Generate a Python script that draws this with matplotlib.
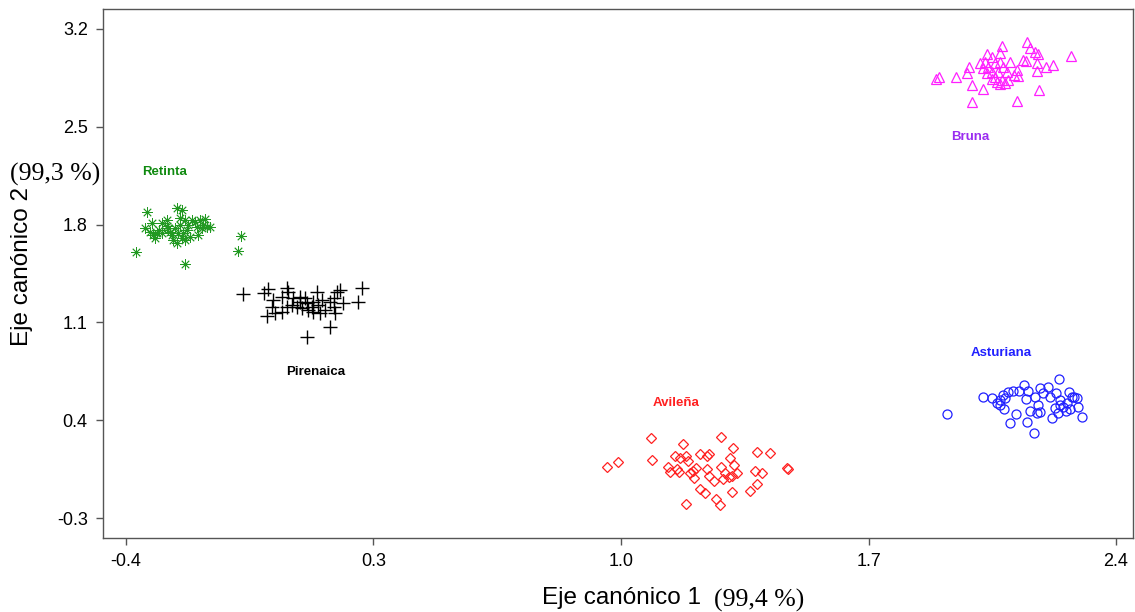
import numpy as np
import matplotlib
matplotlib.use("Agg")
import matplotlib.pyplot as plt

# Canonical scores (eje 1, eje 2)
retinta_x = [-0.341, -0.372, -0.233, -0.075, -0.084, -0.327, -0.346, -0.332, -0.323, -0.313,
             -0.318, -0.299, -0.285, -0.280, -0.275, -0.285, -0.271, -0.257, -0.242, -0.247,
             -0.233, -0.261, -0.252, -0.242, -0.257, -0.233, -0.219, -0.228, -0.224, -0.205,
             -0.191, -0.176, -0.200, -0.186, -0.172, -0.162, -0.195, -0.247, -0.266, -0.299,
             -0.308, -0.238, -0.214, -0.181]
retinta_y = [1.892, 1.601, 1.518, 1.721, 1.613, 1.814, 1.773, 1.749, 1.725, 1.742,
             1.702, 1.809, 1.833, 1.773, 1.749, 1.790, 1.725, 1.916, 1.904, 1.845,
             1.833, 1.773, 1.737, 1.702, 1.671, 1.690, 1.709, 1.761, 1.797, 1.821,
             1.833, 1.838, 1.785, 1.773, 1.785, 1.780, 1.725, 1.797, 1.690, 1.737,
             1.761, 1.737, 1.833, 1.797]

pirenaica_x = [-0.068, -0.011, 0.003, 0.055, 0.057, 0.017, 0.040, 0.073, 0.092, 0.106,
               0.111, 0.125, 0.144, 0.139, 0.154, 0.177, 0.187, 0.196, 0.206, 0.215,
               0.257, 0.267, 0.191, 0.177, 0.113, -0.002, 0.022, 0.040, 0.055, 0.069,
               0.083, 0.097, 0.116, 0.130, 0.149, 0.163, 0.092, 0.130, 0.187, 0.012]
pirenaica_y = [1.303, 1.308, 1.337, 1.344, 1.320, 1.260, 1.284, 1.272, 1.284, 1.272,
               1.236, 1.212, 1.224, 1.320, 1.260, 1.248, 1.272, 1.320, 1.332, 1.241,
               1.244, 1.348, 1.165, 1.069, 0.998, 1.146, 1.165, 1.177, 1.212, 1.224,
               1.212, 1.200, 1.189, 1.177, 1.170, 1.189, 1.248, 1.248, 1.212, 1.212]

avilena_x = [0.961, 0.992, 1.084, 1.089, 1.176, 1.283, 1.316, 1.386, 1.420, 1.154,
             1.167, 1.184, 1.190, 1.222, 1.242, 1.249, 1.308, 1.320, 1.134, 1.139,
             1.157, 1.165, 1.195, 1.205, 1.212, 1.206, 1.244, 1.250, 1.263, 1.283,
             1.288, 1.294, 1.306, 1.313, 1.327, 1.379, 1.398, 1.469, 1.473, 1.384,
             1.365, 1.313, 1.223, 1.238, 1.269, 1.280, 1.184]
avilena_y = [0.062, 0.103, 0.275, 0.115, 0.229, 0.282, 0.203, 0.172, 0.167, 0.143,
             0.127, 0.143, 0.108, 0.155, 0.143, 0.158, 0.132, 0.077, 0.062, 0.031,
             0.048, 0.029, 0.024, 0.039, 0.055, -0.012, 0.050, 0.000, -0.033, 0.062,
             -0.024, 0.019, -0.009, 0.000, 0.019, 0.036, 0.019, 0.055, 0.048, -0.057,
             -0.105, -0.112, -0.095, -0.124, -0.164, -0.207, -0.202]

asturiana_x = [1.921, 2.023, 2.048, 2.062, 2.072, 2.081, 2.095, 2.110, 2.127, 2.140,
               2.152, 2.145, 2.171, 2.180, 2.185, 2.193, 2.209, 2.213, 2.230, 2.240,
               2.242, 2.251, 2.268, 2.275, 2.281, 2.289, 2.260, 2.270, 2.259, 2.237,
               2.227, 2.218, 2.185, 2.176, 2.157, 2.149, 2.117, 2.100, 2.168, 2.083,
               2.072, 2.303, 2.293, 2.242, 2.086]
asturiana_y = [0.444, 0.563, 0.556, 0.520, 0.544, 0.580, 0.604, 0.611, 0.611, 0.652,
               0.611, 0.549, 0.563, 0.509, 0.628, 0.597, 0.635, 0.568, 0.592, 0.692,
               0.544, 0.497, 0.604, 0.568, 0.563, 0.556, 0.520, 0.477, 0.468, 0.454,
               0.485, 0.413, 0.461, 0.454, 0.468, 0.389, 0.444, 0.382, 0.310, 0.477,
               0.509, 0.420, 0.492, 0.509, 0.556]

bruna_x = [1.900, 1.891, 1.947, 1.985, 1.978, 1.994, 2.025, 1.992, 2.034, 2.029,
           2.048, 2.077, 2.072, 2.025, 2.039, 2.058, 2.072, 2.100, 2.081, 2.034,
           2.048, 2.067, 2.091, 2.119, 2.111, 2.124, 2.048, 2.062, 2.077, 2.095,
           2.086, 2.072, 2.147, 2.157, 2.171, 2.180, 2.138, 2.145, 2.176, 2.176,
           2.202, 2.223, 2.272, 2.183, 2.121, 2.015, 2.058]
bruna_y = [2.859, 2.840, 2.854, 2.930, 2.887, 2.799, 2.768, 2.680, 3.021, 2.966,
           3.002, 3.078, 3.031, 2.918, 2.930, 2.954, 2.966, 2.966, 2.930, 2.887,
           2.895, 2.895, 2.895, 2.906, 2.871, 2.863, 2.840, 2.823, 2.835, 2.835,
           2.811, 2.806, 3.109, 3.062, 3.038, 3.021, 2.978, 2.973, 2.959, 2.902,
           2.926, 2.942, 3.007, 2.763, 2.687, 2.954, 2.859]

breeds = ["Retinta", "Pirenaica", "Avileña", "Asturiana", "Bruna"]
label_x = [-0.290, 0.137, 1.155, 2.075, 1.987]
label_y = [2.176, 0.745, 0.523, 0.881, 2.427]
label_colors = ["#108a10", "black", "#ff2020", "#2020ff", "#9a2cf0"]

xticks = [-0.4, 0.3, 1.0, 1.7, 2.4]
yticks = [-0.3, 0.4, 1.1, 1.8, 2.5, 3.2]

fig = plt.figure(figsize=(11.35, 6.12), dpi=100)
ax = fig.add_axes([103 / 1135, 74 / 612, 1030 / 1135, 529 / 612])

ax.plot(retinta_x, retinta_y, ls="none", marker=(8, 2, 0), ms=7.5, mew=0.6, color="#229922")
ax.plot(pirenaica_x, pirenaica_y, ls="none", marker="+", ms=10, mew=1.0, color="black")
ax.plot(avilena_x, avilena_y, ls="none", marker="D", ms=5.3, mew=0.9, mfc="none", mec="#ff2020")
ax.plot(asturiana_x, asturiana_y, ls="none", marker="o", ms=6.5, mew=0.9, mfc="none", mec="#2020ff")
ax.plot(bruna_x, bruna_y, ls="none", marker="^", ms=7, mew=0.9, mfc="none", mec="#ff20ff")

for name, lx, ly, c in zip(breeds, label_x, label_y, label_colors):
    ax.text(lx, ly, name, color=c, fontsize=9.5, fontweight="bold",
            family="Liberation Sans", ha="center", va="center")

ax.set_xlim(-0.465, 2.448)
ax.set_ylim(-0.443, 3.343)
ax.set_xticks(xticks)
ax.set_xticklabels([f"{v:.1f}" for v in xticks])
ax.set_yticks(yticks)
ax.set_yticklabels([f"{v:.1f}" for v in yticks])
ax.tick_params(direction="out", length=5, width=1, color="#555555",
               labelsize=13, pad=6)
for lab in ax.get_xticklabels() + ax.get_yticklabels():
    lab.set_family("Liberation Sans")
for sp in ax.spines.values():
    sp.set_color("#555555")
    sp.set_linewidth(1)

fig.text(621 / 1135, 1 - 598 / 612, "Eje canónico 1", family="Liberation Sans",
         fontsize=17.5, ha="center", va="center")
fig.text(759 / 1135, 1 - 600 / 612, "(99,4 %)", family="Liberation Serif",
         fontsize=18.5, ha="center", va="center")
fig.text(22 / 1135, 1 - 266 / 612, "Eje canónico 2", family="Liberation Sans",
         fontsize=17.5, rotation=90, ha="center", va="center")
fig.text(55 / 1135, 1 - 174 / 612, "(99,3 %)", family="Liberation Serif",
         fontsize=18.5, ha="center", va="center")

fig.savefig("out.png", dpi=100)
